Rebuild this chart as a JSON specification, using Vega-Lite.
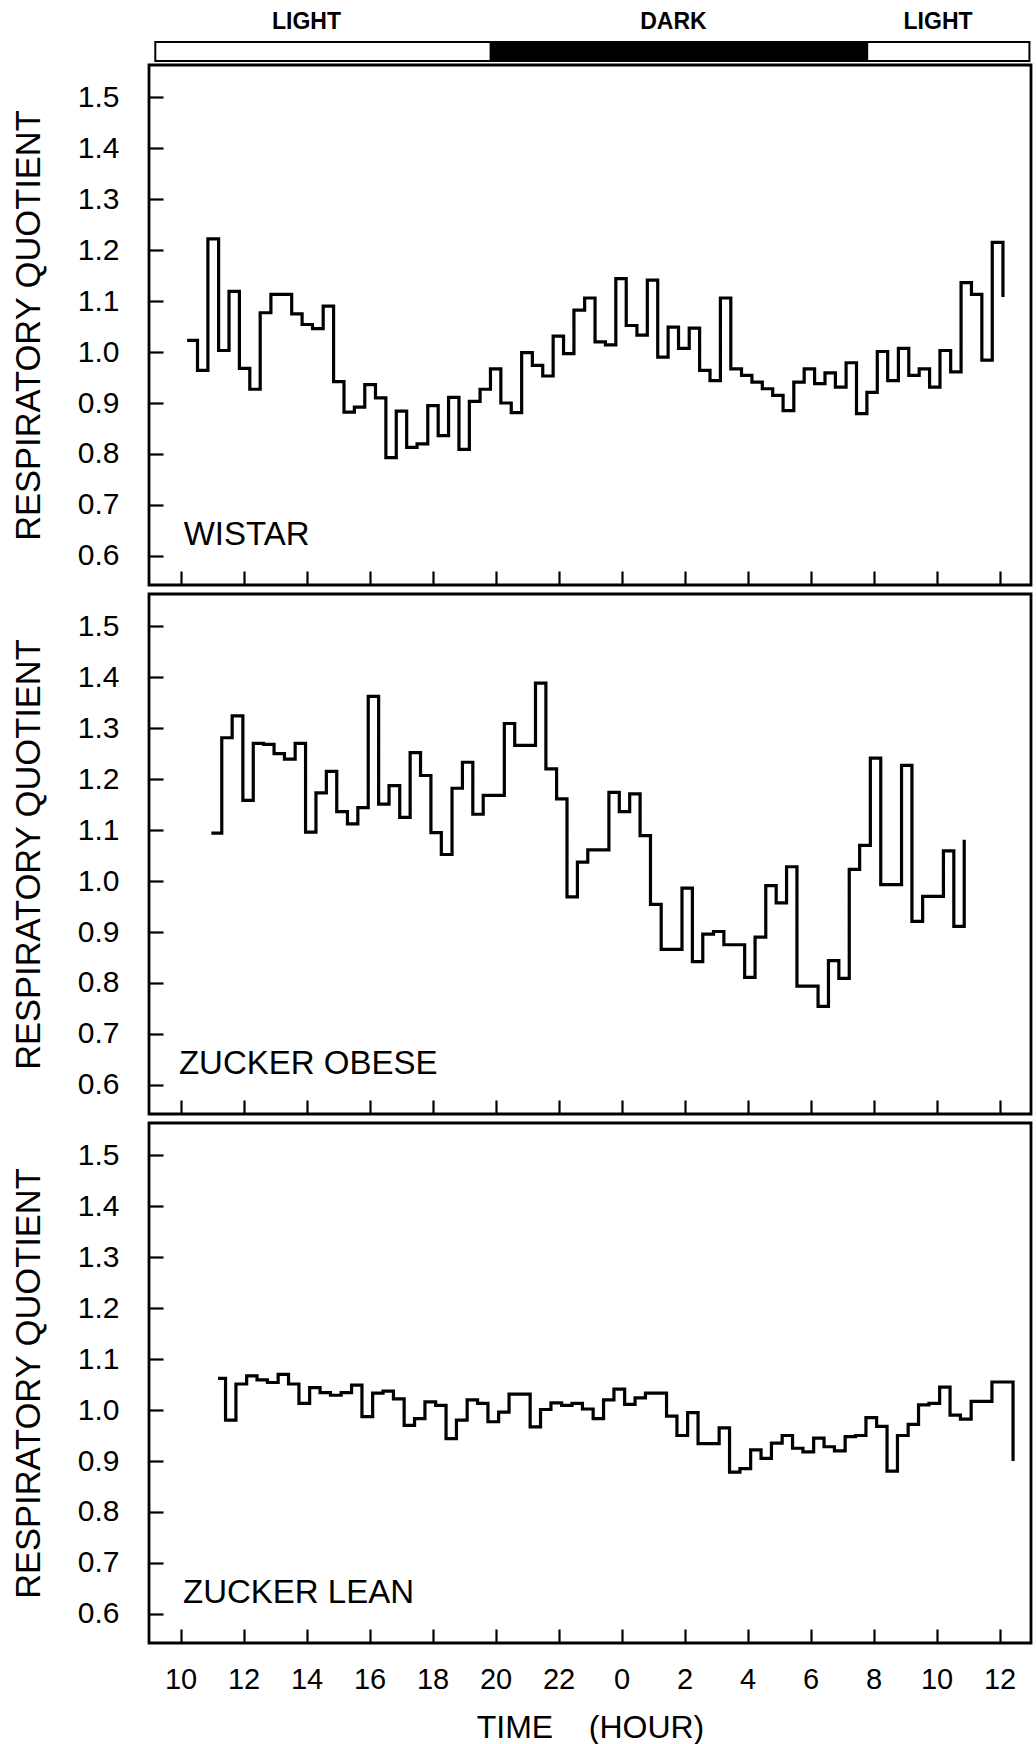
{
  "$schema": "https://vega.github.io/schema/vega-lite/v6.json",
  "background": "white",
  "padding": {"left": 9, "top": 9, "right": 0, "bottom": 0},
  "config": {
    "font": "Liberation Sans",
    "view": {"stroke": "black", "strokeWidth": 2.8},
    "axis": {
      "domain": false, "grid": false,
      "tickColor": "black", "tickWidth": 2.2, "tickSize": -14,
      "labelColor": "black", "titleColor": "black",
      "labelFont": "Liberation Sans", "titleFont": "Liberation Sans",
      "titleFontWeight": "normal", "labelFlush": false, "labelOverlap": false
    }
  },
  "datasets": {
    "photoperiod": [
      {"phase": "LIGHT", "start": 9.2, "end": 19.85},
      {"phase": "DARK", "start": 19.85, "end": 31.8},
      {"phase": "LIGHT", "start": 31.8, "end": 36.95}
    ],
    "phaseLabels": [
      {"phase": "LIGHT", "t": 14.0},
      {"phase": "DARK", "t": 25.65},
      {"phase": "LIGHT", "t": 34.05}
    ],
    "wistar": [
      {"t": 10.21, "rq": 1.023}, {"t": 10.54, "rq": 0.964}, {"t": 10.87, "rq": 1.222}, {"t": 11.21, "rq": 1.003},
      {"t": 11.54, "rq": 1.119}, {"t": 11.87, "rq": 0.968}, {"t": 12.2, "rq": 0.927}, {"t": 12.53, "rq": 1.077},
      {"t": 12.87, "rq": 1.113}, {"t": 13.2, "rq": 1.113}, {"t": 13.53, "rq": 1.075}, {"t": 13.86, "rq": 1.054},
      {"t": 14.19, "rq": 1.046}, {"t": 14.53, "rq": 1.09}, {"t": 14.86, "rq": 0.942}, {"t": 15.19, "rq": 0.882},
      {"t": 15.52, "rq": 0.892}, {"t": 15.85, "rq": 0.936}, {"t": 16.19, "rq": 0.91}, {"t": 16.52, "rq": 0.793},
      {"t": 16.85, "rq": 0.884}, {"t": 17.18, "rq": 0.813}, {"t": 17.51, "rq": 0.82}, {"t": 17.85, "rq": 0.895},
      {"t": 18.18, "rq": 0.836}, {"t": 18.51, "rq": 0.911}, {"t": 18.84, "rq": 0.809}, {"t": 19.17, "rq": 0.903},
      {"t": 19.51, "rq": 0.927}, {"t": 19.84, "rq": 0.967}, {"t": 20.17, "rq": 0.9}, {"t": 20.5, "rq": 0.881},
      {"t": 20.83, "rq": 0.999}, {"t": 21.17, "rq": 0.974}, {"t": 21.5, "rq": 0.953}, {"t": 21.83, "rq": 1.031},
      {"t": 22.16, "rq": 0.997}, {"t": 22.49, "rq": 1.082}, {"t": 22.83, "rq": 1.106}, {"t": 23.16, "rq": 1.02},
      {"t": 23.49, "rq": 1.014}, {"t": 23.82, "rq": 1.144}, {"t": 24.15, "rq": 1.052}, {"t": 24.49, "rq": 1.033},
      {"t": 24.82, "rq": 1.141}, {"t": 25.15, "rq": 0.99}, {"t": 25.48, "rq": 1.049}, {"t": 25.81, "rq": 1.007},
      {"t": 26.15, "rq": 1.047}, {"t": 26.48, "rq": 0.964}, {"t": 26.81, "rq": 0.944}, {"t": 27.14, "rq": 1.106},
      {"t": 27.47, "rq": 0.967}, {"t": 27.81, "rq": 0.954}, {"t": 28.14, "rq": 0.941}, {"t": 28.47, "rq": 0.928},
      {"t": 28.8, "rq": 0.915}, {"t": 29.13, "rq": 0.885}, {"t": 29.47, "rq": 0.941}, {"t": 29.8, "rq": 0.967},
      {"t": 30.13, "rq": 0.938}, {"t": 30.46, "rq": 0.959}, {"t": 30.79, "rq": 0.931}, {"t": 31.13, "rq": 0.979},
      {"t": 31.46, "rq": 0.879}, {"t": 31.79, "rq": 0.921}, {"t": 32.12, "rq": 1.001}, {"t": 32.45, "rq": 0.944},
      {"t": 32.79, "rq": 1.007}, {"t": 33.12, "rq": 0.954}, {"t": 33.45, "rq": 0.967}, {"t": 33.78, "rq": 0.931},
      {"t": 34.11, "rq": 1.003}, {"t": 34.45, "rq": 0.961}, {"t": 34.78, "rq": 1.136}, {"t": 35.11, "rq": 1.113},
      {"t": 35.44, "rq": 0.984}, {"t": 35.77, "rq": 1.215}, {"t": 36.11, "rq": 1.108}
    ],
    "obese": [
      {"t": 10.98, "rq": 1.094}, {"t": 11.31, "rq": 1.281}, {"t": 11.64, "rq": 1.324}, {"t": 11.98, "rq": 1.158},
      {"t": 12.31, "rq": 1.27}, {"t": 12.64, "rq": 1.268}, {"t": 12.97, "rq": 1.25}, {"t": 13.3, "rq": 1.239},
      {"t": 13.64, "rq": 1.27}, {"t": 13.97, "rq": 1.096}, {"t": 14.3, "rq": 1.173}, {"t": 14.63, "rq": 1.215},
      {"t": 14.96, "rq": 1.136}, {"t": 15.3, "rq": 1.112}, {"t": 15.63, "rq": 1.144}, {"t": 15.96, "rq": 1.362},
      {"t": 16.29, "rq": 1.151}, {"t": 16.62, "rq": 1.187}, {"t": 16.96, "rq": 1.125}, {"t": 17.29, "rq": 1.252},
      {"t": 17.62, "rq": 1.207}, {"t": 17.95, "rq": 1.095}, {"t": 18.28, "rq": 1.052}, {"t": 18.62, "rq": 1.182},
      {"t": 18.95, "rq": 1.233}, {"t": 19.28, "rq": 1.131}, {"t": 19.61, "rq": 1.168}, {"t": 19.94, "rq": 1.168},
      {"t": 20.28, "rq": 1.309}, {"t": 20.61, "rq": 1.266}, {"t": 20.94, "rq": 1.266}, {"t": 21.27, "rq": 1.388},
      {"t": 21.6, "rq": 1.22}, {"t": 21.94, "rq": 1.161}, {"t": 22.27, "rq": 0.969}, {"t": 22.6, "rq": 1.037},
      {"t": 22.93, "rq": 1.061}, {"t": 23.26, "rq": 1.061}, {"t": 23.6, "rq": 1.174}, {"t": 23.93, "rq": 1.136},
      {"t": 24.26, "rq": 1.171}, {"t": 24.59, "rq": 1.089}, {"t": 24.92, "rq": 0.954}, {"t": 25.26, "rq": 0.866},
      {"t": 25.59, "rq": 0.866}, {"t": 25.92, "rq": 0.986}, {"t": 26.25, "rq": 0.842}, {"t": 26.58, "rq": 0.896},
      {"t": 26.92, "rq": 0.901}, {"t": 27.25, "rq": 0.875}, {"t": 27.58, "rq": 0.875}, {"t": 27.91, "rq": 0.811},
      {"t": 28.24, "rq": 0.89}, {"t": 28.58, "rq": 0.991}, {"t": 28.91, "rq": 0.957}, {"t": 29.24, "rq": 1.028},
      {"t": 29.57, "rq": 0.794}, {"t": 29.9, "rq": 0.794}, {"t": 30.24, "rq": 0.754}, {"t": 30.57, "rq": 0.844},
      {"t": 30.9, "rq": 0.809}, {"t": 31.23, "rq": 1.023}, {"t": 31.56, "rq": 1.07}, {"t": 31.9, "rq": 1.241},
      {"t": 32.23, "rq": 0.993}, {"t": 32.56, "rq": 0.993}, {"t": 32.89, "rq": 1.227}, {"t": 33.22, "rq": 0.921},
      {"t": 33.56, "rq": 0.97}, {"t": 33.89, "rq": 0.97}, {"t": 34.22, "rq": 1.059}, {"t": 34.55, "rq": 0.911},
      {"t": 34.88, "rq": 1.081}
    ],
    "lean": [
      {"t": 11.19, "rq": 1.062}, {"t": 11.43, "rq": 0.98}, {"t": 11.76, "rq": 1.051}, {"t": 12.1, "rq": 1.067},
      {"t": 12.43, "rq": 1.059}, {"t": 12.76, "rq": 1.054}, {"t": 13.1, "rq": 1.07}, {"t": 13.43, "rq": 1.051},
      {"t": 13.76, "rq": 1.013}, {"t": 14.1, "rq": 1.044}, {"t": 14.43, "rq": 1.034}, {"t": 14.76, "rq": 1.029},
      {"t": 15.1, "rq": 1.034}, {"t": 15.43, "rq": 1.049}, {"t": 15.76, "rq": 0.987}, {"t": 16.1, "rq": 1.033},
      {"t": 16.43, "rq": 1.037}, {"t": 16.76, "rq": 1.022}, {"t": 17.1, "rq": 0.97}, {"t": 17.43, "rq": 0.983},
      {"t": 17.76, "rq": 1.016}, {"t": 18.1, "rq": 1.009}, {"t": 18.43, "rq": 0.944}, {"t": 18.76, "rq": 0.98},
      {"t": 19.1, "rq": 1.02}, {"t": 19.43, "rq": 1.013}, {"t": 19.76, "rq": 0.977}, {"t": 20.1, "rq": 0.996},
      {"t": 20.43, "rq": 1.031}, {"t": 20.76, "rq": 1.031}, {"t": 21.1, "rq": 0.967}, {"t": 21.43, "rq": 1.001},
      {"t": 21.76, "rq": 1.014}, {"t": 22.1, "rq": 1.009}, {"t": 22.43, "rq": 1.013}, {"t": 22.76, "rq": 1.002},
      {"t": 23.1, "rq": 0.983}, {"t": 23.43, "rq": 1.02}, {"t": 23.76, "rq": 1.041}, {"t": 24.1, "rq": 1.011},
      {"t": 24.43, "rq": 1.024}, {"t": 24.76, "rq": 1.033}, {"t": 25.1, "rq": 1.033}, {"t": 25.43, "rq": 0.988},
      {"t": 25.76, "rq": 0.95}, {"t": 26.1, "rq": 0.995}, {"t": 26.43, "rq": 0.934}, {"t": 26.76, "rq": 0.934},
      {"t": 27.1, "rq": 0.965}, {"t": 27.43, "rq": 0.878}, {"t": 27.76, "rq": 0.885}, {"t": 28.1, "rq": 0.922},
      {"t": 28.43, "rq": 0.905}, {"t": 28.76, "rq": 0.935}, {"t": 29.1, "rq": 0.95}, {"t": 29.43, "rq": 0.925},
      {"t": 29.76, "rq": 0.918}, {"t": 30.1, "rq": 0.945}, {"t": 30.43, "rq": 0.928}, {"t": 30.76, "rq": 0.92},
      {"t": 31.1, "rq": 0.948}, {"t": 31.43, "rq": 0.95}, {"t": 31.76, "rq": 0.985}, {"t": 32.1, "rq": 0.968},
      {"t": 32.43, "rq": 0.88}, {"t": 32.76, "rq": 0.95}, {"t": 33.1, "rq": 0.972}, {"t": 33.43, "rq": 1.01},
      {"t": 33.76, "rq": 1.013}, {"t": 34.1, "rq": 1.045}, {"t": 34.43, "rq": 0.99}, {"t": 34.76, "rq": 0.982},
      {"t": 35.1, "rq": 1.017}, {"t": 35.43, "rq": 1.017}, {"t": 35.76, "rq": 1.055}, {"t": 36.1, "rq": 1.055},
      {"t": 36.43, "rq": 0.9}
    ]
  },
  "spacing": 9,
  "bounds": "flush",
  "vconcat": [
    {
      "width": 882,
      "height": 520,
      "layer": [
        {
          "data": {"name": "photoperiod"},
          "mark": {"type": "rect", "stroke": "black", "strokeWidth": 2},
          "encoding": {
            "x": {"field": "start", "type": "quantitative", "scale": {"domain": [9, 37], "nice": false, "zero": false}},
            "x2": {"field": "end"},
            "y": {"datum": 1.6081, "type": "quantitative", "scale": {"domain": [0.543, 1.563], "nice": false, "zero": false}},
            "y2": {"datum": 1.5708},
            "color": {
              "field": "phase", "type": "nominal",
              "scale": {"domain": ["LIGHT", "DARK"], "range": ["white", "black"]},
              "legend": null
            }
          }
        },
        {
          "data": {"name": "phaseLabels"},
          "mark": {"type": "text", "align": "center", "baseline": "alphabetic", "fontSize": 23, "fontWeight": "bold", "color": "black"},
          "encoding": {
            "x": {"field": "t", "type": "quantitative", "scale": {"domain": [9, 37], "nice": false, "zero": false}},
            "y": {"datum": 1.6336, "type": "quantitative", "scale": {"domain": [0.543, 1.563], "nice": false, "zero": false}},
            "text": {"field": "phase"}
          }
        },
        {
          "data": {"name": "wistar"},
          "mark": {"type": "line", "interpolate": "step-after", "color": "black", "strokeWidth": 3.2},
          "encoding": {
            "x": {
              "field": "t", "type": "quantitative",
              "scale": {"domain": [9, 37], "nice": false, "zero": false},
              "axis": {"values": [10, 12, 14, 16, 18, 20, 22, 24, 26, 28, 30, 32, 34, 36], "labels": false, "title": null}
            },
            "y": {
              "field": "rq", "type": "quantitative",
              "scale": {"domain": [0.543, 1.563], "nice": false, "zero": false},
              "axis": {
                "values": [0.6, 0.7, 0.8, 0.9, 1.0, 1.1, 1.2, 1.3, 1.4, 1.5], "format": ".1f",
                "labelFontSize": 30, "labelPadding": 44,
                "title": "RESPIRATORY QUOTIENT", "titleFontSize": 34.5, "titlePadding": 31
              }
            }
          }
        },
        {
          "data": {"values": [{"strain": "WISTAR"}]},
          "mark": {"type": "text", "align": "left", "baseline": "alphabetic", "fontSize": 33, "color": "black"},
          "encoding": {
            "x": {"datum": 10.1, "type": "quantitative"},
            "y": {"datum": 0.622, "type": "quantitative"},
            "text": {"field": "strain"}
          }
        }
      ]
    },
    {
      "width": 882,
      "height": 520,
      "layer": [
        {
          "data": {"name": "obese"},
          "mark": {"type": "line", "interpolate": "step-after", "color": "black", "strokeWidth": 3.2},
          "encoding": {
            "x": {
              "field": "t", "type": "quantitative",
              "scale": {"domain": [9, 37], "nice": false, "zero": false},
              "axis": {"values": [10, 12, 14, 16, 18, 20, 22, 24, 26, 28, 30, 32, 34, 36], "labels": false, "title": null}
            },
            "y": {
              "field": "rq", "type": "quantitative",
              "scale": {"domain": [0.543, 1.563], "nice": false, "zero": false},
              "axis": {
                "values": [0.6, 0.7, 0.8, 0.9, 1.0, 1.1, 1.2, 1.3, 1.4, 1.5], "format": ".1f",
                "labelFontSize": 30, "labelPadding": 44,
                "title": "RESPIRATORY QUOTIENT", "titleFontSize": 34.5, "titlePadding": 31
              }
            }
          }
        },
        {
          "data": {"values": [{"strain": "ZUCKER OBESE"}]},
          "mark": {"type": "text", "align": "left", "baseline": "alphabetic", "fontSize": 33, "color": "black"},
          "encoding": {
            "x": {"datum": 9.95, "type": "quantitative"},
            "y": {"datum": 0.622, "type": "quantitative"},
            "text": {"field": "strain"}
          }
        }
      ]
    },
    {
      "width": 882,
      "height": 520,
      "layer": [
        {
          "data": {"name": "lean"},
          "mark": {"type": "line", "interpolate": "step-after", "color": "black", "strokeWidth": 3.2},
          "encoding": {
            "x": {
              "field": "t", "type": "quantitative",
              "scale": {"domain": [9, 37], "nice": false, "zero": false},
              "axis": {
                "values": [10, 12, 14, 16, 18, 20, 22, 24, 26, 28, 30, 32, 34, 36],
                "labelExpr": "'' + (datum.value % 24)",
                "labelFontSize": 29, "labelPadding": 36,
                "title": "TIME\u00a0\u00a0\u00a0\u00a0(HOUR)", "titleFontSize": 32, "titlePadding": 18
              }
            },
            "y": {
              "field": "rq", "type": "quantitative",
              "scale": {"domain": [0.543, 1.563], "nice": false, "zero": false},
              "axis": {
                "values": [0.6, 0.7, 0.8, 0.9, 1.0, 1.1, 1.2, 1.3, 1.4, 1.5], "format": ".1f",
                "labelFontSize": 30, "labelPadding": 44,
                "title": "RESPIRATORY QUOTIENT", "titleFontSize": 34.5, "titlePadding": 31
              }
            }
          }
        },
        {
          "data": {"values": [{"strain": "ZUCKER LEAN"}]},
          "mark": {"type": "text", "align": "left", "baseline": "alphabetic", "fontSize": 33, "color": "black"},
          "encoding": {
            "x": {"datum": 10.08, "type": "quantitative"},
            "y": {"datum": 0.622, "type": "quantitative"},
            "text": {"field": "strain"}
          }
        }
      ]
    }
  ]
}
